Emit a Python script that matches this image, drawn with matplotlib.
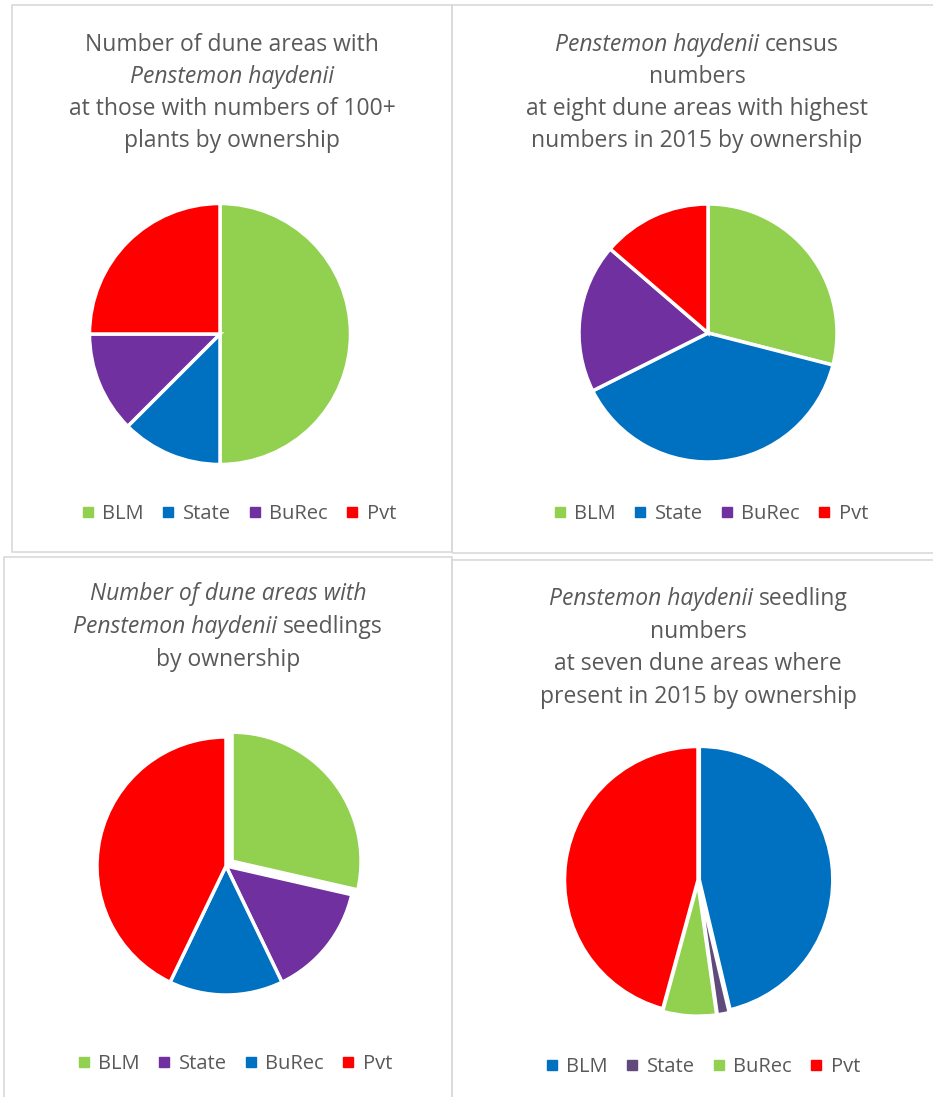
import matplotlib
matplotlib.use("Agg")
import matplotlib.pyplot as plt
from matplotlib.patches import Rectangle

W, H = 933, 1097
DPI = 100

owners = ["BLM", "State", "BuRec", "Pvt"]

# Panel 1: number of dune areas with 100+ plants
areas_100 = [4, 1, 1, 2]
# Panel 2: census numbers (share, %) at eight dune areas
census_pct = [29.0, 38.6, 18.7, 13.7]
# Panel 3: number of dune areas with seedlings
areas_seedlings = [2, 1, 1, 3]
# Panel 4: seedling numbers (share, %) at seven dune areas
seedling_pct = [46.3, 1.45, 6.5, 45.75]

GREEN = "#92d050"
BLUE = "#0070c0"
PURPLE = "#7030a0"
RED = "#ff0000"
DPURPLE = "#604a7b"

colors1 = [GREEN, BLUE, PURPLE, RED]
colors2 = [GREEN, BLUE, PURPLE, RED]
colors3 = [GREEN, PURPLE, BLUE, RED]
colors4 = [BLUE, DPURPLE, GREEN, RED]

TXT = "#595959"
FONT = ["Open Sans", "DejaVu Sans"]

fig = plt.figure(figsize=(W / DPI, H / DPI), dpi=DPI)
fig.patch.set_facecolor("white")


def fx(x):
    return x / W


def fy(y):
    return 1 - y / H


def border(x0, y0, x1, y1):
    fig.patches.append(Rectangle((fx(x0), fy(y1)), fx(x1 - x0), (y1 - y0) / H,
                                 transform=fig.transFigure, fill=False,
                                 edgecolor="#d9d9d9", linewidth=1.2))


renderer = fig.canvas.get_renderer()


def text_width(s, style, size):
    t = fig.text(0, 0, s, fontsize=size, style=style, family=FONT)
    w = t.get_window_extent(renderer).width
    t.remove()
    return w


def title_line(segments, cx, y, size=16.5):
    # segments: list of (text, style)
    space = text_width("a a", "normal", size) - text_width("aa", "normal", size)
    widths = [text_width(s, st, size) for s, st in segments]
    total = sum(widths) + space * (len(segments) - 1)
    x = cx - total / 2
    for (s, st), w in zip(segments, widths):
        fig.text(fx(x), fy(y), s, fontsize=size, style=st, family=FONT,
                 color=TXT, ha="left", va="center")
        x += w + space


def pie(cx, cy, r, values, colors, explode=None, lw=2.5):
    ax = fig.add_axes([fx(cx - r), fy(cy + r), 2 * r / W, 2 * r / H])
    wedges, _ = ax.pie(values, colors=colors, startangle=90, counterclock=False,
                       explode=explode, radius=1.0,
                       wedgeprops=dict(edgecolor="white", linewidth=lw))
    for wdg in wedges:
        wdg.set_clip_on(False)
    ax.set_xlim(-1, 1)
    ax.set_ylim(-1, 1)
    ax.set_aspect("equal")
    ax.axis("off")
    return wedges


def legend(cx, y, labels, colors, size=14.5):
    handles = [plt.Line2D([], [], marker="s", linestyle="none", markersize=6.5,
                          markerfacecolor=c, markeredgecolor=c) for c in colors]
    leg = fig.legend(handles, labels, loc="center", bbox_to_anchor=(fx(cx), fy(y)),
                     ncol=4, frameon=False, handletextpad=0.2, columnspacing=0.72,
                     handlelength=1.0, prop={"family": FONT, "size": size})
    for t in leg.get_texts():
        t.set_color(TXT)


# Panel borders
border(12, 5, 452, 552)
border(452, 5, 940, 553)
border(4, 557, 452, 1100)
border(452, 560, 940, 1100)

# Panel 1
title_line([("Number of dune areas with", "normal")], 232, 45)
title_line([("Penstemon haydenii", "italic")], 232, 77)
title_line([("at those with numbers of 100+", "normal")], 232, 109)
title_line([("plants by ownership", "normal")], 232, 141)
pie(220, 334, 130.5, areas_100, colors1)
legend(237, 514, owners, colors1)

# Panel 2
title_line([("Penstemon haydenii", "italic"), ("census", "normal")], 697, 45)
title_line([("numbers", "normal")], 697, 77)
title_line([("at eight dune areas with highest", "normal")], 697, 109)
title_line([("numbers in 2015 by ownership", "normal")], 697, 141)
pie(708, 333, 129, census_pct, colors2)
legend(709, 514, owners, colors2)

# Panel 3
title_line([("Number of dune areas with", "italic")], 228, 594)
title_line([("Penstemon haydenii", "italic"), ("seedlings", "normal")], 228, 627)
title_line([("by ownership", "normal")], 228, 660)
pie(226, 866, 129, areas_seedlings, colors3, explode=[0.06, 0, 0, 0])
legend(233, 1064, owners, colors3)

# Panel 4
title_line([("Penstemon haydenii", "italic"), ("seedling", "normal")], 698, 599)
title_line([("numbers", "normal")], 698, 632)
title_line([("at seven dune areas where", "normal")], 698, 664)
title_line([("present in 2015 by ownership", "normal")], 698, 697)
pie(698, 880, 133.5, seedling_pct, colors4, explode=[0.01, 0.02, 0.02, 0.0])
legend(701, 1067, owners, colors4)

fig.savefig("out.png", dpi=DPI, facecolor="white")
